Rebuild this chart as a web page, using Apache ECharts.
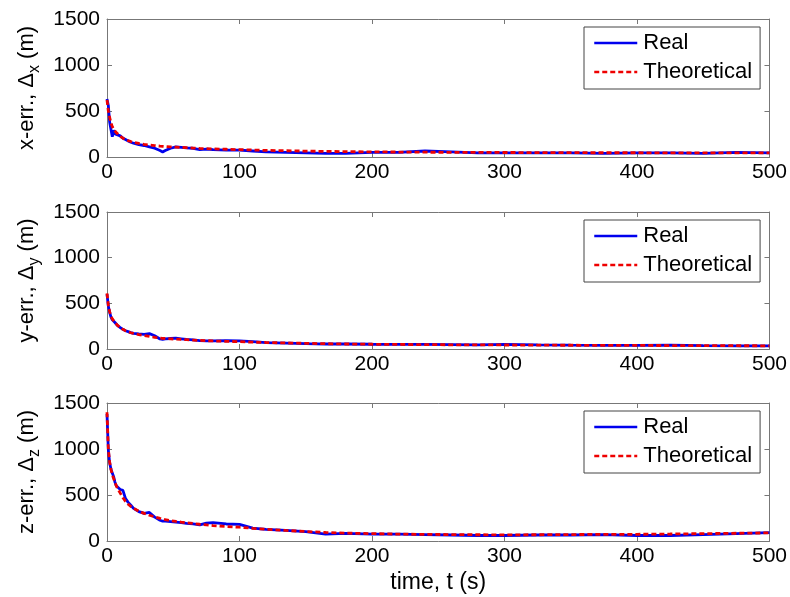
<!DOCTYPE html>
<html>
<head>
<meta charset="utf-8">
<script src="https://cdn.jsdelivr.net/npm/echarts@6/dist/echarts.min.js"></script>
<style>
  html, body { margin: 0; padding: 0; background: #fff; }
  #main { width: 790px; height: 597px; }
</style>
</head>
<body>
<div id="main"></div>
<script>
var chart = echarts.init(document.getElementById('main'));

var times = [0, 1, 2, 3, 4, 5, 6, 7, 8, 10, 12, 14, 16, 18, 20, 24, 28, 32, 36, 40, 42, 44, 48, 52, 56, 60,
  65, 70, 75, 80, 90, 100, 110, 120, 135, 150, 165, 180, 200, 220, 240, 260, 280, 300, 325, 350, 375, 400,
  425, 450, 475, 500];

var xReal = [630, 560, 380, 300, 220, 290, 250, 260, 240, 230, 205, 190, 175, 160, 150, 135, 125, 110, 95, 70,
  55, 70, 95, 110, 105, 100, 95, 80, 85, 80, 75, 75, 65, 55, 50, 45, 40, 40, 50, 50, 65, 55, 45, 45, 45, 45,
  40, 45, 45, 40, 50, 45];
var xTheo = [620, 500, 430, 370, 330, 300, 280, 265, 250, 225, 205, 190, 178, 168, 160, 148, 138, 130, 124, 118,
  116, 114, 110, 107, 104, 101, 97, 93, 90, 88, 84, 80, 76, 72, 68, 64, 61, 58, 56, 54, 52, 51, 50, 49, 48, 47,
  46, 46, 45, 45, 44, 44];

var yReal = [600, 470, 400, 350, 320, 310, 290, 270, 255, 235, 215, 200, 190, 180, 172, 165, 160, 168, 145, 110,
  105, 110, 115, 118, 112, 105, 100, 92, 90, 90, 92, 88, 80, 70, 65, 58, 55, 55, 52, 50, 50, 48, 45, 50, 45, 42,
  40, 40, 42, 38, 35, 35];
var yTheo = [610, 480, 410, 360, 330, 310, 290, 272, 258, 235, 215, 200, 188, 178, 170, 158, 148, 138, 128, 120,
  117, 115, 111, 108, 105, 102, 98, 94, 91, 88, 84, 80, 75, 71, 66, 62, 58, 55, 52, 50, 48, 46, 45, 44, 42, 41,
  40, 39, 38, 37, 36, 35];

var zReal = [1380, 990, 850, 780, 740, 700, 640, 600, 580, 560, 550, 460, 420, 390, 355, 320, 300, 310, 260, 225,
  215, 215, 210, 205, 200, 192, 185, 175, 195, 200, 185, 180, 140, 127, 115, 101, 75, 83, 75, 75, 70, 65, 60, 60,
  65, 65, 70, 60, 60, 70, 80, 90];
var zTheo = [1400, 1000, 860, 780, 720, 680, 640, 600, 570, 520, 470, 430, 400, 375, 355, 325, 300, 280, 262, 245,
  238, 232, 222, 213, 205, 198, 190, 182, 175, 168, 158, 150, 138, 128, 115, 103, 93, 86, 80, 75, 72, 70, 68, 67,
  68, 70, 72, 73, 76, 80, 84, 88];

var axisNames = [
  '{a|x-err., Δ}{b|x}{a| (m)}',
  '{a|y-err., Δ}{b|y}{a| (m)}',
  '{a|z-err., Δ}{b|z}{a| (m)}'
];
var realSets = [xReal, yReal, zReal];
var theoSets = [xTheo, yTheo, zTheo];

var font = 'Arial, "Liberation Sans", sans-serif';
var axisColor = '#777';
var gridTops = [19, 212, 403];
var gridHeights = [138, 137, 138];

function pairs(vals) {
  return times.map(function (t, i) { return [t, vals[i]]; });
}

var grids = [], xAxes = [], yAxes = [], series = [], legends = [];

for (var k = 0; k < 3; k++) {
  grids.push({ left: 107, top: gridTops[k], width: 663, height: gridHeights[k] });

  xAxes.push({
    type: 'value', gridIndex: k, min: 0, max: 500, interval: 100,
    axisLine: { show: true, lineStyle: { color: axisColor } },
    axisTick: { inside: true, length: 5, lineStyle: { color: axisColor } },
    axisLabel: { color: '#000', fontSize: 21, fontFamily: font, margin: 5 },
    splitLine: { show: false },
    name: k === 2 ? 'time, t (s)' : '',
    nameLocation: 'middle', nameGap: 30,
    nameTextStyle: { color: '#000', fontSize: 23, fontFamily: font }
  });
  xAxes.push({
    type: 'value', gridIndex: k, min: 0, max: 500, interval: 100, position: 'top',
    axisLine: { show: true, onZero: false, lineStyle: { color: axisColor } },
    axisTick: { inside: true, length: 5, lineStyle: { color: axisColor } },
    axisLabel: { show: false }, splitLine: { show: false }
  });

  yAxes.push({
    type: 'value', gridIndex: k, min: 0, max: 1500, interval: 500,
    axisLine: { show: true, lineStyle: { color: axisColor } },
    axisTick: { show: true, inside: true, length: 5, lineStyle: { color: axisColor } },
    axisLabel: {
      color: '#000', fontSize: 21, fontFamily: font, margin: 7,
      formatter: function (v) { return String(v); }
    },
    splitLine: { show: false },
    name: axisNames[k], nameLocation: 'middle', nameGap: 60, nameRotate: 90,
    nameTextStyle: {
      rich: {
        a: { fontSize: 22, fontFamily: font, color: '#000', lineHeight: 30, verticalAlign: 'middle' },
        b: { fontSize: 16, fontFamily: font, color: '#000', lineHeight: 30, verticalAlign: 'bottom' }
      }
    }
  });
  yAxes.push({
    type: 'value', gridIndex: k, min: 0, max: 1500, interval: 500, position: 'right',
    axisLine: { show: true, onZero: false, lineStyle: { color: axisColor } },
    axisTick: { show: true, inside: true, length: 5, lineStyle: { color: axisColor } },
    axisLabel: { show: false }, splitLine: { show: false }
  });

  series.push({
    name: 'Real', type: 'line', xAxisIndex: 2 * k, yAxisIndex: 2 * k,
    symbol: 'none', data: pairs(realSets[k]),
    lineStyle: { color: '#0000ee', width: 2.8 }, itemStyle: { color: '#0000ee' }
  });
  series.push({
    name: 'Theoretical', type: 'line', xAxisIndex: 2 * k, yAxisIndex: 2 * k,
    symbol: 'none', data: pairs(theoSets[k]),
    lineStyle: { color: '#ee0000', width: 2.8, type: [5, 3] }, itemStyle: { color: '#ee0000' }
  });

  legends.push({
    data: ['Real', 'Theoretical'],
    orient: 'vertical', left: 584, top: gridTops[k] + 8,
    padding: [5, 8, 6, 9], itemGap: 7, itemWidth: 43, itemHeight: 14,
    backgroundColor: '#fff', borderColor: '#444', borderWidth: 1, borderRadius: 0,
    itemStyle: { color: 'rgba(0,0,0,0)', borderWidth: 0 },
    lineStyle: { width: 2.5 },
    textStyle: { color: '#000', fontSize: 22, fontFamily: font, lineHeight: 22, padding: [0, 0, 0, 1] },
    selectedMode: false
  });
}

chart.setOption({
  animation: false,
  backgroundColor: '#fff',
  grid: grids,
  xAxis: xAxes,
  yAxis: yAxes,
  legend: legends,
  series: series
});
</script>
</body>
</html>
